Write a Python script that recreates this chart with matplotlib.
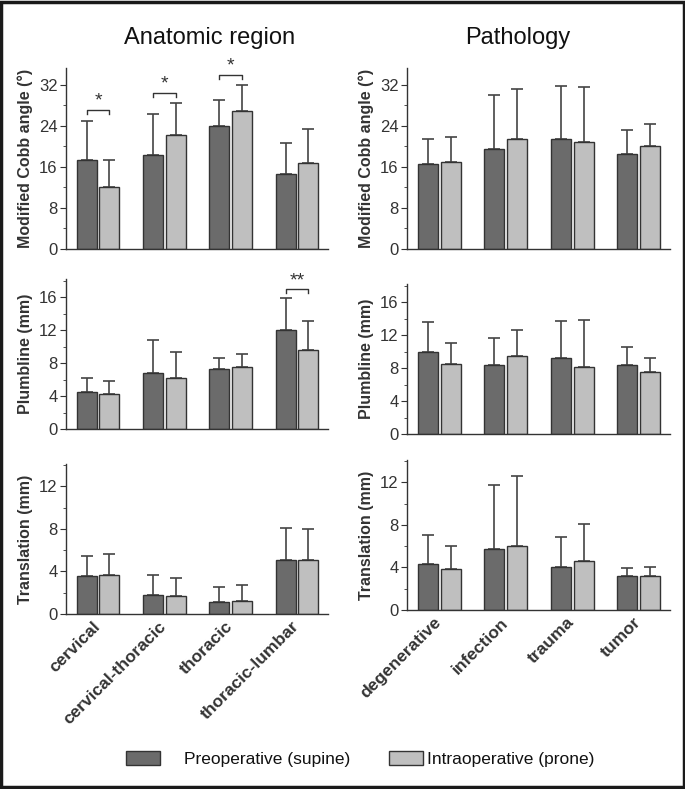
import numpy as np
import matplotlib.pyplot as plt
import matplotlib.transforms as mtransforms
from matplotlib.patches import Rectangle, Patch
from matplotlib.ticker import MultipleLocator

plt.rcParams['font.family'] = ['Liberation Sans', 'DejaVu Sans']

regions = ['cervical', 'cervical-thoracic', 'thoracic', 'thoracic-lumbar']
pathologies = ['degenerative', 'infection', 'trauma', 'tumor']

# Modified Cobb angle (deg), mean and SD
cobb_reg_pre = [17.3, 18.4, 24.0, 14.7]
cobb_reg_pre_sd = [7.7, 8.0, 5.0, 5.9]
cobb_reg_intra = [12.0, 22.3, 26.9, 16.8]
cobb_reg_intra_sd = [5.3, 6.1, 5.0, 6.6]
cobb_path_pre = [16.6, 19.5, 21.4, 18.5]
cobb_path_pre_sd = [4.8, 10.6, 10.4, 4.7]
cobb_path_intra = [16.9, 21.4, 20.8, 20.0]
cobb_path_intra_sd = [5.0, 9.8, 10.8, 4.4]

# Plumbline (mm)
plumb_reg_pre = [4.54, 6.75, 7.28, 11.98]
plumb_reg_pre_sd = [1.65, 4.1, 1.36, 3.86]
plumb_reg_intra = [4.22, 6.23, 7.56, 9.53]
plumb_reg_intra_sd = [1.65, 3.06, 1.57, 3.62]
plumb_path_pre = [9.93, 8.40, 9.2, 8.36]
plumb_path_pre_sd = [3.62, 3.26, 4.55, 2.21]
plumb_path_intra = [8.44, 9.45, 8.16, 7.56]
plumb_path_intra_sd = [2.66, 3.21, 5.71, 1.64]

# Translation (mm)
trans_reg_pre = [3.53, 1.81, 1.09, 5.06]
trans_reg_pre_sd = [1.91, 1.85, 1.44, 3.03]
trans_reg_intra = [3.63, 1.72, 1.22, 5.06]
trans_reg_intra_sd = [2.0, 1.66, 1.47, 2.97]
trans_path_pre = [4.29, 5.69, 4.01, 3.17]
trans_path_pre_sd = [2.74, 6.06, 2.83, 0.75]
trans_path_intra = [3.89, 6.03, 4.63, 3.2]
trans_path_intra_sd = [2.17, 6.59, 3.45, 0.84]

# significance marks (category index -> label)
sig_cobb_reg = {0: '*', 1: '*', 2: '*'}
sig_plumb_reg = {3: '**'}

dark = '#6b6b6b'
light = '#bfbfbf'
ink = '#333333'

W, H = 685, 789
fig = plt.figure(figsize=(W / 100, H / 100), dpi=100)


def px_axes(x0, top, w, bottom):
    return fig.add_axes([x0 / W, 1 - bottom / H, w / W, (bottom - top) / H])


def draw(ax, pre, pre_sd, intra, intra_sd, ylab, ymax, major, minor, cats, sig=None, labels=False):
    x = np.arange(len(pre))
    bw = 0.3
    off = 0.17
    for xs, m, s, c in [(x - off, pre, pre_sd, dark), (x + off, intra, intra_sd, light)]:
        ax.errorbar(xs, m, yerr=[np.zeros(len(m)), s], fmt='none', ecolor='#444444',
                    elinewidth=1.2, capsize=4, capthick=1.2, zorder=1)
        ax.bar(xs, m, width=bw, color=c, edgecolor=ink, linewidth=1, zorder=2)
    if sig:
        for i, lab in sig.items():
            top = max(pre[i] + pre_sd[i], intra[i] + intra_sd[i])
            h = top + 0.06 * ymax
            leg = 0.025 * ymax
            ax.plot([i - off, i - off, i + off, i + off], [h - leg, h, h, h - leg],
                    color=ink, lw=1, clip_on=False)
            ax.text(i, h, lab, ha='center', va='bottom', fontsize=14, color=ink)
    ax.set_xlim(-0.485, 3.47)
    ax.set_ylim(0, ymax)
    ax.yaxis.set_major_locator(MultipleLocator(major))
    ax.yaxis.set_minor_locator(MultipleLocator(minor))
    for sp in ['top', 'right']:
        ax.spines[sp].set_visible(False)
    for sp in ['left', 'bottom']:
        ax.spines[sp].set_color(ink)
        ax.spines[sp].set_linewidth(1)
    ax.tick_params(axis='y', which='major', length=4, color=ink, labelsize=12,
                   labelcolor=ink, pad=2)
    ax.tick_params(axis='y', which='minor', length=2, color=ink)
    ax.tick_params(axis='x', length=0)
    ax.set_ylabel(ylab, fontsize=11.5, fontweight='bold', color=ink, labelpad=4)
    ax.set_xticks(x)
    if labels:
        ax.set_xticklabels(cats, rotation=45, ha='right', rotation_mode='anchor',
                           fontsize=12.5, fontweight='bold', color=ink)
        shift = mtransforms.ScaledTranslation(-4 / 72, 0, fig.dpi_scale_trans)
        for t in ax.get_xticklabels():
            t.set_transform(t.get_transform() + shift)
    else:
        ax.set_xticklabels([])


ax = px_axes(66, 68, 262, 249)
draw(ax, cobb_reg_pre, cobb_reg_pre_sd, cobb_reg_intra, cobb_reg_intra_sd,
     'Modified Cobb angle (°)', 35.3, 8, 4, regions, sig_cobb_reg)
ax = px_axes(407, 68, 263, 249)
draw(ax, cobb_path_pre, cobb_path_pre_sd, cobb_path_intra, cobb_path_intra_sd,
     'Modified Cobb angle (°)', 35.3, 8, 4, pathologies)

ax = px_axes(66, 279, 262, 429)
draw(ax, plumb_reg_pre, plumb_reg_pre_sd, plumb_reg_intra, plumb_reg_intra_sd,
     'Plumbline (mm)', 18.2, 4, 2, regions, sig_plumb_reg)
ax = px_axes(407, 284, 263, 434)
draw(ax, plumb_path_pre, plumb_path_pre_sd, plumb_path_intra, plumb_path_intra_sd,
     'Plumbline (mm)', 18.2, 4, 2, pathologies)

ax = px_axes(66, 464, 262, 614)
draw(ax, trans_reg_pre, trans_reg_pre_sd, trans_reg_intra, trans_reg_intra_sd,
     'Translation (mm)', 14.1, 4, 2, regions, labels=True)
ax = px_axes(407, 460, 263, 610)
draw(ax, trans_path_pre, trans_path_pre_sd, trans_path_intra, trans_path_intra_sd,
     'Translation (mm)', 14.1, 4, 2, pathologies, labels=True)

fig.text(210 / W, 1 - 38 / H, 'Anatomic region', ha='center', va='center',
         fontsize=17, color='#111111')
fig.text(518 / W, 1 - 38 / H, 'Pathology', ha='center', va='center',
         fontsize=17, color='#111111')

for col, lab, x0, pad in [(dark, 'Preoperative (supine)', 126, 1.4),
                          (light, 'Intraoperative (prone)', 389, 0.25)]:
    fig.legend(handles=[Patch(facecolor=col, edgecolor=ink, label=lab)],
               loc='center left', bbox_to_anchor=(x0 / W, 1 - 759 / H),
               frameon=False, fontsize=12.5, handlelength=1.95, handleheight=0.85,
               handletextpad=pad, borderpad=0, borderaxespad=0, labelcolor='#111111')

fig.patches.append(Rectangle((0.002, 0.002), 0.996, 0.996, transform=fig.transFigure,
                             fill=False, edgecolor='#1a1a1a', linewidth=2.5))

fig.savefig('out.png', dpi=100, facecolor='white')
